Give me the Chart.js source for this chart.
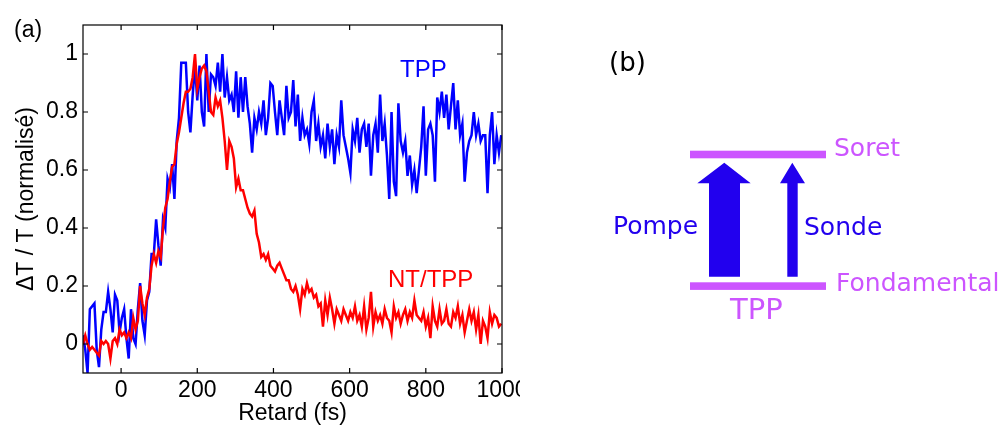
<!DOCTYPE html>
<html>
<head>
<meta charset="utf-8">
<script src="https://cdn.jsdelivr.net/npm/chart.js@4.4.0/dist/chart.umd.min.js"></script>
<style>
  body { margin: 0; background: #fff; }
  #page { position: relative; width: 1002px; height: 427px; overflow: hidden; background: #fff; }
  #plot { position: absolute; left: 0; top: 0; width: 520px; height: 427px; }
  #overlay { position: absolute; left: 0; top: 0; pointer-events: none; }
</style>
</head>
<body>
<div id="page">
  <div id="plot"><canvas id="chart-a"></canvas></div>
  <svg id="overlay" width="1002" height="427" xmlns="http://www.w3.org/2000/svg">
    <!-- panel (a) annotations -->
    <text x="14" y="37" font-family="Liberation Sans, Arial, sans-serif" font-size="23" fill="#000">(a)</text>
    <text x="400" y="77" font-family="Liberation Sans, Arial, sans-serif" font-size="24" fill="#0000ff">TPP</text>
    <text x="388" y="287" font-family="Liberation Sans, Arial, sans-serif" font-size="24" fill="#ff0000">NT/TPP</text>

    <!-- panel (b) level diagram -->
    <g font-family="DejaVu Sans, sans-serif">
      <text x="609" y="71" font-size="26" fill="#000">(b)</text>
      <rect x="690" y="150.7" width="136" height="7.6" fill="#cc55ff"/>
      <rect x="690" y="282.3" width="136" height="7.6" fill="#cc55ff"/>
      <polygon points="709,276.7 709,183.3 697.3,183.3 724.3,162.7 750.7,183.3 740,183.3 740,276.7" fill="#2200ee"/>
      <polygon points="787.3,276.7 787.3,183.3 780,183.3 792.3,162.7 805,183.3 797.7,183.3 797.7,276.7" fill="#2200ee"/>
      <text x="834" y="156" font-size="25" fill="#cc55ff">Soret</text>
      <text x="836" y="291" font-size="25" fill="#cc55ff">Fondamental</text>
      <text x="730" y="319" font-size="29" fill="#cc55ff">TPP</text>
      <text x="613" y="234" font-size="25" fill="#2200ee">Pompe</text>
      <text x="804" y="235" font-size="25" fill="#2200ee">Sonde</text>
    </g>
  </svg>
</div>
<script>
// delays (fs)
const delays = [
  -100,-94,-88,-82,-76,-70,-64,-58,-52,-46,
  -40,-34,-28,-22,-16,-10,-4,2,8,14,
  20,26,32,38,44,50,56,62,68,74,
  80,86,92,98,104,110,116,122,128,134,
  140,146,152,158,164,170,176,182,188,194,
  200,206,212,218,224,230,236,242,248,254,
  260,266,272,278,284,290,296,302,308,314,
  320,326,332,338,344,350,356,362,368,374,
  380,386,392,398,404,410,416,422,428,434,
  440,446,452,458,464,470,476,482,488,494,
  500,506,512,518,524,530,536,542,548,554,
  560,566,572,578,584,590,596,602,608,614,
  620,626,632,638,644,650,656,662,668,674,
  680,686,692,698,704,710,716,722,728,734,
  740,746,752,758,764,770,776,782,788,794,
  800,806,812,818,824,830,836,842,848,854,
  860,866,872,878,884,890,896,902,908,914,
  920,926,932,938,944,950,956,962,968,974,
  980,986,992,998
];

// TPP alone (blue)
const tppValues = [
  0.03,-0.02,-0.10,0.12,0.13,0.14,-0.02,-0.08,0.05,0.11,
  0.11,0.18,0.12,0.04,0.17,0.15,0.04,0.09,0.12,0.02,
  -0.05,0.12,0.02,0.00,0.12,0.21,0.08,0.03,0.15,0.18,
  0.31,0.31,0.43,0.34,0.27,0.43,0.40,0.57,0.54,0.62,
  0.50,0.70,0.78,0.97,0.97,0.97,0.80,0.73,0.86,0.96,
  0.84,0.96,0.80,0.75,1.00,0.80,0.93,0.92,0.89,0.97,
  0.87,1.00,0.85,0.92,0.84,0.86,0.80,0.94,0.78,0.92,
  0.80,0.92,0.82,0.76,0.66,0.78,0.74,0.80,0.76,0.84,
  0.72,0.78,0.90,0.89,0.80,0.72,0.84,0.78,0.72,0.89,
  0.78,0.80,0.91,0.75,0.86,0.70,0.78,0.72,0.74,0.69,
  0.80,0.84,0.70,0.76,0.68,0.72,0.64,0.76,0.68,0.74,
  0.62,0.72,0.68,0.84,0.72,0.68,0.64,0.59,0.74,0.70,
  0.78,0.66,0.74,0.76,0.68,0.76,0.58,0.72,0.76,0.66,
  0.86,0.70,0.76,0.65,0.50,0.80,0.56,0.51,0.83,0.70,
  0.66,0.70,0.58,0.65,0.55,0.60,0.52,0.60,0.68,0.82,
  0.58,0.74,0.76,0.72,0.56,0.85,0.80,0.87,0.78,0.86,
  0.74,0.82,0.90,0.74,0.84,0.72,0.76,0.56,0.66,0.70,
  0.72,0.80,0.72,0.76,0.70,0.72,0.72,0.52,0.72,0.80,
  0.62,0.72,0.66,0.72
];

// NT/TPP (red)
const ntTppValues = [
  0.00,0.03,0.00,-0.02,-0.01,-0.02,-0.03,-0.04,0.01,0.00,
  0.01,0.00,-0.05,0.01,0.02,0.00,0.05,0.03,0.04,0.02,
  0.04,0.02,0.09,0.05,0.08,0.20,0.14,0.10,0.16,0.19,
  0.27,0.31,0.28,0.32,0.30,0.40,0.47,0.50,0.56,0.61,
  0.62,0.69,0.73,0.78,0.83,0.87,0.87,0.88,0.92,1.00,
  0.88,0.92,0.95,0.96,0.94,0.87,0.80,0.79,0.85,0.82,
  0.84,0.78,0.70,0.60,0.70,0.68,0.64,0.54,0.57,0.53,
  0.53,0.50,0.47,0.45,0.44,0.46,0.38,0.35,0.30,0.31,
  0.29,0.31,0.27,0.26,0.25,0.27,0.28,0.26,0.24,0.22,
  0.22,0.19,0.18,0.20,0.17,0.12,0.19,0.17,0.21,0.18,
  0.19,0.16,0.17,0.13,0.14,0.06,0.15,0.10,0.16,0.12,
  0.07,0.12,0.10,0.08,0.12,0.10,0.08,0.11,0.09,0.13,
  0.08,0.10,0.06,0.13,0.05,0.09,0.18,0.06,0.11,0.08,
  0.10,0.07,0.12,0.09,0.08,0.04,0.13,0.09,0.11,0.07,
  0.10,0.12,0.08,0.11,0.09,0.15,0.10,0.09,0.08,0.11,
  0.06,0.09,0.02,0.13,0.08,0.06,0.12,0.07,0.08,0.12,
  0.07,0.06,0.11,0.09,0.13,0.07,0.10,0.04,0.08,0.12,
  0.08,0.11,0.05,0.10,0.00,0.08,0.06,0.02,0.11,0.07,
  0.10,0.09,0.06,0.07
];

const xTicks = [0, 200, 400, 600, 800, 1000];
const yTicks = [0, 0.2, 0.4, 0.6, 0.8, 1];

const FONT = 'Liberation Sans, Arial, Helvetica, sans-serif';

const toPoints = (ys) => delays.map((d, i) => ({ x: d, y: ys[i] }));

// matlab style box with inward ticks on all sides
const boxTicks = {
    id: 'boxTicks',
    afterDraw(chart) {
        const { ctx, chartArea: a, scales: { x, y } } = chart;
        const len = 5;
        ctx.save();
        ctx.strokeStyle = '#000';
        ctx.lineWidth = 1.2;
        ctx.strokeRect(a.left, a.top, a.right - a.left, a.bottom - a.top);
        ctx.beginPath();
        xTicks.forEach(v => {
            const px = x.getPixelForValue(v);
            ctx.moveTo(px, a.bottom); ctx.lineTo(px, a.bottom - len);
            ctx.moveTo(px, a.top); ctx.lineTo(px, a.top + len);
        });
        yTicks.forEach(v => {
            const py = y.getPixelForValue(v);
            ctx.moveTo(a.left, py); ctx.lineTo(a.left + len, py);
            ctx.moveTo(a.right, py); ctx.lineTo(a.right - len, py);
        });
        ctx.stroke();
        ctx.restore();
    }
};

new Chart(document.getElementById('chart-a'), {
    type: 'line',
    data: {
        datasets: [
            {
                label: 'NT/TPP',
                data: toPoints(ntTppValues),
                borderColor: '#ff0000',
                borderWidth: 2.5,
                pointRadius: 0,
                tension: 0,
                order: 1
            },
            {
                label: 'TPP',
                data: toPoints(tppValues),
                borderColor: '#0000ff',
                borderWidth: 2.5,
                pointRadius: 0,
                tension: 0,
                order: 2
            }
        ]
    },
    options: {
        responsive: true,
        maintainAspectRatio: false,
        animation: false,
        layout: { padding: { top: 25, right: 18, left: 0, bottom: 0 } },
        plugins: {
            legend: { display: false },
            tooltip: { enabled: false }
        },
        scales: {
            x: {
                type: 'linear',
                min: -100,
                max: 1000,
                afterBuildTicks: (s) => { s.ticks = xTicks.map(v => ({ value: v })); },
                afterFit: (s) => { s.height = 54; s.paddingLeft = 0; s.paddingRight = 0; },
                grid: { display: false, drawTicks: false },
                border: { display: false },
                ticks: { color: '#000', font: { family: FONT, size: 23 }, padding: 4, maxRotation: 0, callback: (v) => String(v) },
                title: { display: true, text: 'Retard (fs)', color: '#000', font: { family: FONT, size: 23 }, padding: 0 }
            },
            y: {
                min: -0.1,
                max: 1.1,
                afterBuildTicks: (s) => { s.ticks = yTicks.map(v => ({ value: v })); },
                afterFit: (s) => { s.width = 83; s.paddingTop = 0; s.paddingBottom = 0; },
                grid: { display: false, drawTicks: false },
                border: { display: false },
                ticks: { color: '#000', font: { family: FONT, size: 23 }, padding: 5, callback: (v) => String(v) },
                title: { display: true, text: 'ΔT / T (normalisé)', color: '#000', font: { family: FONT, size: 23 }, padding: { top: 13, bottom: 0 } }
            }
        }
    },
    plugins: [boxTicks]
});
</script>
</body>
</html>
